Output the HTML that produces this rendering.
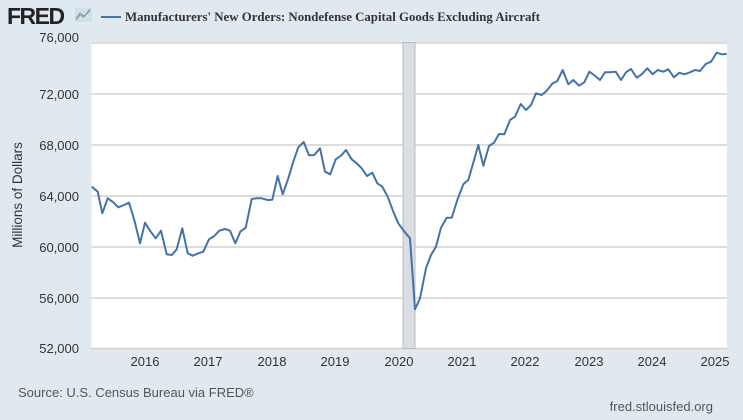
<!DOCTYPE html>
<html><head><style>
body{margin:0;width:743px;height:415px;background:#e1e9f0;overflow:hidden;}
</style></head><body>
<svg width="743" height="415" viewBox="0 0 743 415" xmlns="http://www.w3.org/2000/svg" font-family="Liberation Sans, sans-serif">
<rect width="743" height="415" fill="#e1e9f0"/>
<text x="7" y="24" font-size="23" font-weight="bold" fill="#222" letter-spacing="-1.5">FRED</text>
<rect x="75" y="8" width="17" height="14" fill="#cfe0ea" rx="1"/>
<polyline points="76,20 80,15 84,17 90,9" fill="none" stroke="#8ab05a" stroke-width="1.2"/>
<polyline points="76,18 80,13 84,16 90,11" fill="none" stroke="#6b9bc8" stroke-width="1"/>
<line x1="101" y1="17" x2="121" y2="17" stroke="#4572a7" stroke-width="2"/>
<text x="125" y="21" font-family="Liberation Serif, serif" font-weight="bold" font-size="13" fill="#333" textLength="415" lengthAdjust="spacingAndGlyphs">Manufacturers' New Orders: Nondefense Capital Goods Excluding Aircraft</text>
<rect x="91.5" y="42.5" width="635.5" height="306" fill="#fff"/>
<g stroke="#d2d2d2" stroke-width="1.5">
<line x1="91.5" x2="727" y1="43" y2="43"/>
<line x1="91.5" x2="727" y1="94" y2="94"/>
<line x1="91.5" x2="727" y1="145" y2="145"/>
<line x1="91.5" x2="727" y1="196" y2="196"/>
<line x1="91.5" x2="727" y1="247" y2="247"/>
<line x1="91.5" x2="727" y1="298" y2="298"/>
<line x1="91.5" x2="727" y1="348.5" y2="348.5"/>
</g>
<rect x="403" y="42.5" width="12" height="306" fill="#dadde2" stroke="#b8bcc2" stroke-width="1"/>
<g font-size="13" fill="#333" text-anchor="end">
<text x="79" y="42">76,000</text>
<text x="79" y="99">72,000</text>
<text x="79" y="150">68,000</text>
<text x="79" y="201">64,000</text>
<text x="79" y="252">60,000</text>
<text x="79" y="303">56,000</text>
<text x="79" y="353">52,000</text>
</g>
<text transform="translate(22,195) rotate(-90)" font-size="13.5" fill="#333" text-anchor="middle">Millions of Dollars</text>
<g font-size="13" fill="#333" text-anchor="middle">
<text x="145" y="366">2016</text>
<text x="208" y="366">2017</text>
<text x="272" y="366">2018</text>
<text x="335" y="366">2019</text>
<text x="399" y="366">2020</text>
<text x="462" y="366">2021</text>
<text x="525" y="366">2022</text>
<text x="589" y="366">2023</text>
<text x="652" y="366">2024</text>
<text x="715" y="366">2025</text>
</g>
<polyline fill="none" stroke="#4572a7" stroke-width="2" stroke-linejoin="round" points="91.7,186.7 97.7,191.7 102.3,213.3 107.7,198.3 113.3,202.3 118.3,207.3 124,205 129,202.7 134.3,220 140,243.3 145,222.7 150.7,231.7 155.7,238.3 161,230.7 166.7,254.3 171.7,255 176.7,249.3 182.3,228.3 187.7,253.3 192.7,255.7 198.3,253.3 203.3,251.7 209,239.3 214.3,236 219.3,230.7 225,229 230,230.7 235.3,243.3 240.3,231.7 245.7,227.7 251.7,199 256.7,198.3 261.7,198.3 267.7,200 272.3,199.7 277.7,176 282.7,194.3 288.3,178.3 293.3,161.7 298.3,147.3 303.7,142 309,155.3 314.3,155 320,148.3 325,171.7 330.3,174.3 335.7,159.3 341,155.7 346,150 351.7,159.3 356.7,163.3 361.7,168.3 367,176 372.3,172.7 377.3,183.3 382.3,186.7 387.7,196.7 393.3,211.7 398.3,223.3 403.7,230.7 410,238.3 415,309.3 420,298.3 426,268.3 431,255 436,246.7 441,227.7 446.7,217.7 451.7,217.7 457.3,200 463.3,184.3 468.3,180 473.3,162.7 478.3,145 483.3,165.7 489,146 494,142.7 499,134 504.3,134.3 510,120 515,116.7 520.7,104 526,110 531,105 536,93.3 541.7,95 546.7,90.7 552.7,83.3 557.3,81 562.7,70 568.3,84.3 573.3,80 579,85.7 584.3,82.3 589.3,71.7 595,75.7 600,80 605,72.3 610,72.3 615.7,71.7 621,80 626,72.3 631,69 636.7,77.7 641.7,74.3 647.3,68.3 652.7,74.3 657.7,70 663.3,71.7 668.3,69.3 674,77.3 679.3,72.7 684.3,74.3 690,72.3 695,70 700,71 705.7,64 711,61.7 716.7,52.7 721.7,54.3 726.7,54"/>
<text x="18" y="397" font-size="13" fill="#555">Source: U.S. Census Bureau via FRED®</text>
<text x="713" y="411" font-size="13" fill="#555" text-anchor="end">fred.stlouisfed.org</text>
</svg>
</body></html>
